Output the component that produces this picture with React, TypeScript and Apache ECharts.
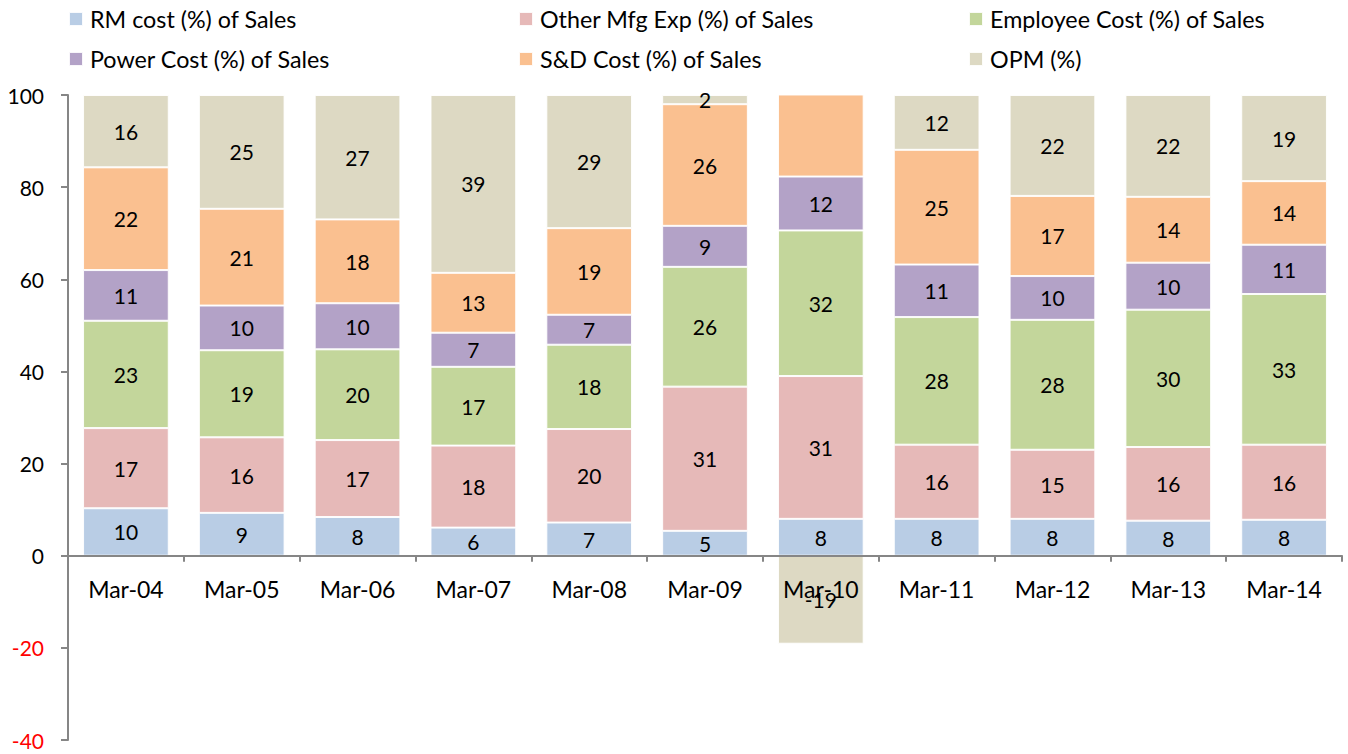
import React, { useEffect, useRef } from "react";
import * as echarts from "echarts";

const categories = ["Mar-04", "Mar-05", "Mar-06", "Mar-07", "Mar-08", "Mar-09", "Mar-10", "Mar-11", "Mar-12", "Mar-13", "Mar-14"];
const rmCost = [10.3, 9.3, 8.4, 6.1, 7.2, 5.4, 8.0, 8.0, 8.0, 7.6, 7.8];
const otherMfg = [17.4, 16.4, 16.7, 17.8, 20.3, 31.3, 31.0, 16.1, 15.0, 16.0, 16.3];
const employeeCost = [23.3, 18.9, 19.7, 17.1, 18.3, 26.0, 31.6, 27.7, 28.2, 29.8, 32.7];
const powerCost = [11.0, 9.7, 10.0, 7.4, 6.5, 8.9, 11.7, 11.4, 9.5, 10.2, 10.7];
const sdCost = [22.3, 21.0, 18.2, 13.0, 18.8, 26.4, 36.8, 24.9, 17.4, 14.3, 13.8];
const opm = [15.7, 24.7, 27.0, 38.6, 28.9, 2.0, -19.1, 11.9, 21.9, 22.1, 18.7];
const yTicks = { min: -40, max: 100, interval: 20 };

const seriesDefs = [
  { name: "RM cost (%) of Sales", data: rmCost, color: "#b9cde5" },
  { name: "Other Mfg Exp (%) of Sales", data: otherMfg, color: "#e6b9b8" },
  { name: "Employee Cost (%) of Sales", data: employeeCost, color: "#c3d69b" },
  { name: "Power Cost (%) of Sales", data: powerCost, color: "#b3a2c7" },
  { name: "S&D Cost (%) of Sales", data: sdCost, color: "#fac090" },
  { name: "OPM (%)", data: opm, color: "#ddd9c3" },
];

const FONT = "Lato";
const GRID = { left: 68, right: 6, top: 95, bottom: 14 };
const W = 1348;
const H = 754;

export default function App() {
  const ref = useRef<HTMLDivElement>(null);
  useEffect(() => {
    if (!ref.current) return;
    const chart = echarts.init(ref.current, null, { renderer: "svg" });
    const legendCols = [
      [seriesDefs[0].name, seriesDefs[3].name],
      [seriesDefs[1].name, seriesDefs[4].name],
      [seriesDefs[2].name, seriesDefs[5].name],
    ];
    const legendLefts = [68, 518, 968];
    const gridH = H - GRID.top - GRID.bottom;
    const zeroFromBottom = gridH * (0 - yTicks.min) / (yTicks.max - yTicks.min);
    chart.setOption({
      animation: false,
      textStyle: { fontFamily: FONT },
      legend: legendCols.map((d, i) => ({
        data: d,
        orient: "vertical",
        left: legendLefts[i],
        top: 6,
        itemWidth: 14,
        itemHeight: 14,
        itemGap: 14,
        padding: 0,
        icon: "rect",
        textStyle: { fontFamily: FONT, fontSize: 23.3, color: "#000", lineHeight: 26, padding: [0, 0, 0, 2] },
      })),
      grid: { ...GRID, containLabel: false, outerBoundsMode: "none" },
      xAxis: {
        type: "category",
        data: categories,
        z: 3,
        offset: -zeroFromBottom,
        axisLine: { onZero: false, lineStyle: { color: "#868686", width: 2 } },
        axisTick: { show: true, length: 6, lineStyle: { color: "#868686", width: 2 } },
        axisLabel: { fontFamily: FONT, fontSize: 23, color: "#000", margin: 22 },
      },
      yAxis: {
        type: "value",
        min: yTicks.min,
        max: yTicks.max,
        interval: yTicks.interval,
        z: 3,
        splitLine: { show: false },
        axisLine: { show: true, lineStyle: { color: "#868686", width: 2 } },
        axisTick: { show: true, length: 7, lineStyle: { color: "#868686", width: 2 } },
        axisLabel: {
          fontFamily: FONT,
          fontSize: 21,
          margin: 24,
          color: (v: any) => (Number(v) < 0 ? "#ff0000" : "#000"),
        },
      },
      series: seriesDefs.map((s) => ({
        name: s.name,
        type: "bar",
        stack: "total",
        barCategoryGap: "26%",
        itemStyle: { color: s.color, borderColor: "rgba(255,255,255,0.9)", borderWidth: 1 },
        label: {
          show: true,
          position: "inside",
          fontFamily: FONT,
          fontSize: 21,
          color: "#000",
          formatter: (p: any) => String(Math.round(p.value)),
        },
        data: s.data.map((v, i) =>
          s.name === "S&D Cost (%) of Sales" && categories[i] === "Mar-10"
            ? { value: v, label: { show: false } }
            : v
        ),
      })),
    });
    return () => chart.dispose();
  }, []);
  return <div ref={ref} style={{ width: W, height: H, position: "absolute", left: 0, top: 0 }} />;
}
